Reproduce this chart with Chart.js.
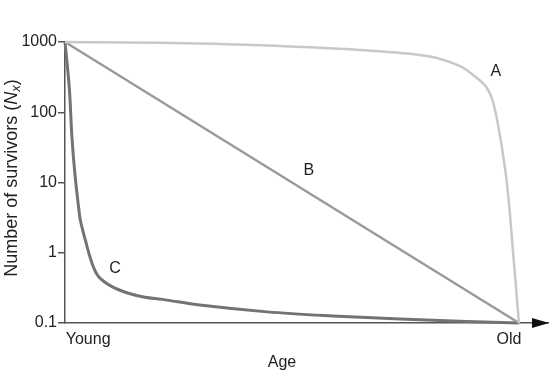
<!DOCTYPE html>
<html>
<head>
<meta charset="utf-8">
<style>
  body { margin: 0; background: #fff; }
  #wrap { width: 553px; height: 374px; position: relative; }
</style>
<script src="https://cdn.jsdelivr.net/npm/chart.js@4.4.1/dist/chart.umd.min.js"></script>
</head>
<body>
<div id="wrap"><canvas id="survivorship"></canvas></div>
<script>
// Survivorship curves (age 0 = young, 100 = old)
const ageA = [0, 20.9, 43, 65, 79.7, 87, 90.7, 92.95, 94.3, 95.8, 97.4, 98.7, 100];
const survA = [1000, 977, 897, 769, 632, 455, 309, 221, 140, 47, 9.2, 1.03, 0.1];

const ageB = [0, 100];
const survB = [1000, 0.1];

const ageC = [0, 0.95, 1.54, 2.27, 3.02, 3.37, 4.47, 5.95, 7.42, 10.35, 14, 17.6, 21.4, 29.7, 44.5, 59, 73.8, 88.5, 100];
const survC = [1000, 221, 43, 11.6, 4.3, 2.92, 1.52, 0.71, 0.456, 0.329, 0.265, 0.232, 0.217, 0.18, 0.144, 0.126, 0.114, 0.105, 0.1];

const yTicks = [0.1, 1, 10, 100, 1000];
const xTickLabels = ['Young', 'Old'];
const xTickPos = [5.1, 97.8];

const curveNames = ['A', 'B', 'C'];
const curveNameAge = [94.9, 53.7, 11.0];
const curveNameSurv = [376, 14.6, 0.6];

const axisColor = '#555';
const font = "'Liberation Sans', Arial, sans-serif";

function pairs(xs, ys) {
    return xs.map((x, i) => ({ x: x, y: ys[i] }));
}

// extra drawing: curve letters, axis titles, arrow head
const extras = {
    id: 'extras',
    afterDraw(chart) {
        const ctx = chart.ctx;
        const xs = chart.scales.x;
        const ys = chart.scales.y;
        const area = chart.chartArea;
        ctx.save();
        ctx.fillStyle = '#222';
        ctx.font = '16px ' + font;
        ctx.textAlign = 'center';
        ctx.textBaseline = 'middle';
        curveNames.forEach((n, i) => {
            ctx.fillText(n, xs.getPixelForValue(curveNameAge[i]), ys.getPixelForValue(curveNameSurv[i]));
        });

        // x title
        ctx.fillText('Age', 282, 363);

        // arrow head on x axis
        ctx.fillStyle = '#111';
        ctx.beginPath();
        ctx.moveTo(area.right - 16, area.bottom - 5);
        ctx.lineTo(area.right + 1, area.bottom);
        ctx.lineTo(area.right - 16, area.bottom + 5);
        ctx.closePath();
        ctx.fill();

        // y title with italic N and subscript x
        ctx.fillStyle = '#222';
        ctx.translate(12, 178);
        ctx.rotate(-Math.PI / 2);
        ctx.textAlign = 'left';
        const normal = '18px ' + font;
        const ital = 'italic 18px ' + font;
        const sub = 'italic 13px ' + font;
        const parts = [
            ['Number of survivors (', normal, 0],
            ['N', ital, 0],
            ['x', sub, 4],
            [')', normal, 0]
        ];
        let total = 0;
        parts.forEach(p => { ctx.font = p[1]; total += ctx.measureText(p[0]).width; });
        let pos = -total / 2;
        parts.forEach(p => {
            ctx.font = p[1];
            ctx.fillText(p[0], pos, p[2]);
            pos += ctx.measureText(p[0]).width;
        });
        ctx.restore();
    }
};

new Chart(document.getElementById('survivorship'), {
    type: 'line',
    data: {
        datasets: [
            {
                label: 'A',
                data: pairs(ageA, survA),
                borderColor: '#c8c8c8',
                borderWidth: 2.5
            },
            {
                label: 'B',
                data: pairs(ageB, survB),
                borderColor: '#9a9a9a',
                borderWidth: 2.5
            },
            {
                label: 'C',
                data: pairs(ageC, survC),
                borderColor: '#737373',
                borderWidth: 3
            }
        ]
    },
    options: {
        responsive: true,
        maintainAspectRatio: false,
        animation: false,
        layout: { padding: { left: 0, top: 42, right: 5, bottom: 0 } },
        elements: {
            point: { radius: 0 },
            line: { tension: 0.35, fill: false, capBezierPoints: true }
        },
        datasets: { line: { clip: 6 } },
        plugins: {
            legend: { display: false },
            tooltip: { enabled: false }
        },
        scales: {
            x: {
                type: 'linear',
                min: 0,
                max: 106.4,
                afterBuildTicks: function(scale) {
                    scale.ticks = xTickPos.map(v => ({ value: v }));
                },
                afterFit: function(scale) { scale.height = 51; },
                grid: { display: false, drawTicks: false },
                border: { display: true, color: axisColor, width: 1.5 },
                ticks: {
                    padding: 7,
                    color: '#222',
                    font: { family: font, size: 16 },
                    maxRotation: 0,
                    autoSkip: false,
                    callback: function(value, index) {
                        return xTickLabels[index];
                    }
                }
            },
            y: {
                type: 'logarithmic',
                min: 0.1,
                max: 1000,
                afterBuildTicks: function(scale) {
                    scale.ticks = yTicks.map(v => ({ value: v }));
                },
                afterFit: function(scale) { scale.width = 65; },
                grid: {
                    display: true,
                    drawOnChartArea: false,
                    drawTicks: true,
                    tickLength: 7,
                    color: axisColor,
                    lineWidth: 1.5
                },
                border: { display: true, color: axisColor, width: 1.5 },
                ticks: {
                    padding: 1,
                    color: '#222',
                    font: { family: font, size: 16 },
                    callback: function(value) {
                        return String(value);
                    }
                }
            }
        }
    },
    plugins: [extras]
});
</script>
</body>
</html>
